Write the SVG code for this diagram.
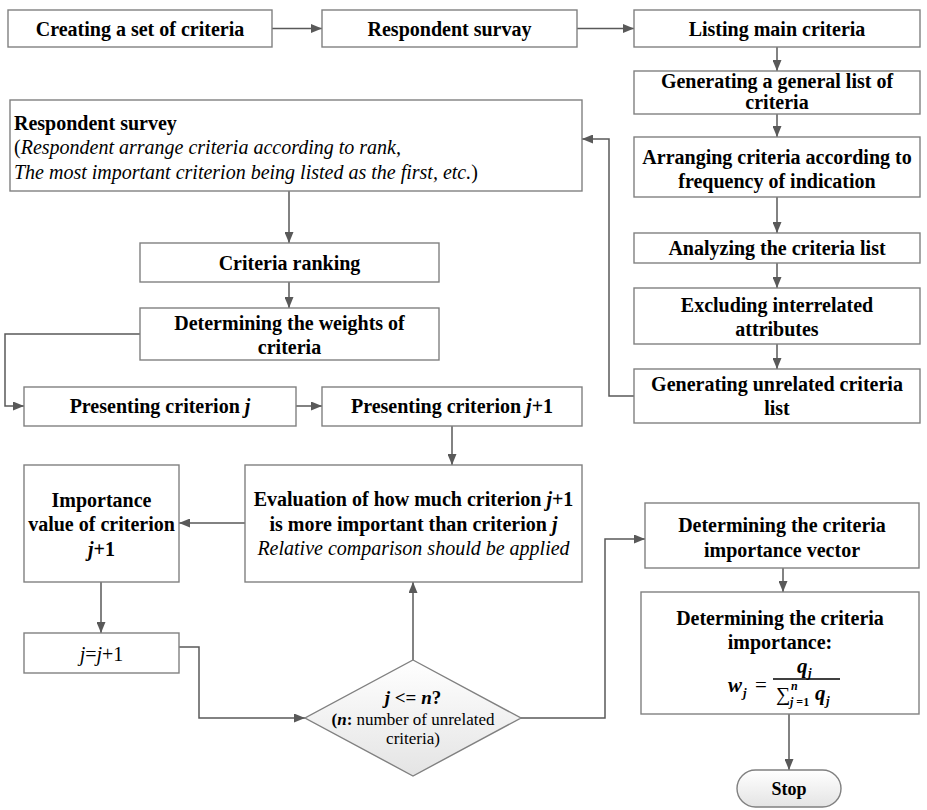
<svg xmlns="http://www.w3.org/2000/svg" width="927" height="810" viewBox="0 0 927 810">
<defs>
<marker id="ah" markerUnits="userSpaceOnUse" markerWidth="11" markerHeight="9" refX="11" refY="4.5" orient="auto">
<path d="M0,0 L11,4.5 L0,9 z" fill="#595959"/>
</marker>
<linearGradient id="gf" x1="0" y1="0" x2="0" y2="1">
<stop offset="0" stop-color="#ffffff"/>
<stop offset="1" stop-color="#e4e4e4"/>
</linearGradient>
<style>
.b{fill:#fff;stroke:#808080;stroke-width:1.4}
.t{font-family:'Liberation Serif','Times New Roman',serif;font-size:20px;font-weight:bold;fill:#000;text-anchor:middle}
.l{text-anchor:start}
.i{font-style:italic}
.r{font-weight:normal}
.s{font-size:17px}
.c{fill:none;stroke:#595959;stroke-width:1.5;marker-end:url(#ah)}
</style>
</defs>
<rect width="927" height="810" fill="#fff"/>
<g id="connectors">
<path class="c" d="M272,28.5 H322"/>
<path class="c" d="M577,28.5 H634"/>
<path class="c" d="M777,47 V71"/>
<path class="c" d="M777,114 V137"/>
<path class="c" d="M777,197 V233"/>
<path class="c" d="M777,263 V288"/>
<path class="c" d="M777,344 V369"/>
<path class="c" d="M634,396 H609 V139 H582"/>
<path class="c" d="M289,191 V243"/>
<path class="c" d="M289,282 V308"/>
<path class="c" d="M140,334 H5 V406 H24"/>
<path class="c" d="M296,406 H322"/>
<path class="c" d="M452,426 V465"/>
<path class="c" d="M245,523 H179"/>
<path class="c" d="M101,582 V633"/>
<path class="c" d="M179,647 H199 V718 H305"/>
<path class="c" d="M413,660 V582"/>
<path class="c" d="M521,718 H605 V539 H645"/>
<path class="c" d="M783,568 V592"/>
<path class="c" d="M789,714 V770"/>
</g>
<g id="n1"><rect class="b" x="8" y="10" width="264" height="37"/><text class="t" x="140" y="35.5">Creating a set of criteria</text></g>
<g id="n2"><rect class="b" x="322" y="10" width="255" height="37"/><text class="t" x="449.5" y="35.5">Respondent survay</text></g>
<g id="n3"><rect class="b" x="634" y="10" width="286" height="37"/><text class="t" x="777" y="35.5">Listing main criteria</text></g>
<g id="n4"><rect class="b" x="634" y="71" width="286" height="43"/><text class="t" x="777" y="88">Generating a general list of</text><text class="t" x="777" y="109">criteria</text></g>
<g id="n5"><rect class="b" x="634" y="137" width="286" height="60"/><text class="t" x="777" y="164">Arranging criteria according to</text><text class="t" x="777" y="188">frequency of indication</text></g>
<g id="n6"><rect class="b" x="634" y="233" width="286" height="30"/><text class="t" x="777" y="255">Analyzing the criteria list</text></g>
<g id="n7"><rect class="b" x="634" y="288" width="286" height="56"/><text class="t" x="777" y="312">Excluding interrelated</text><text class="t" x="777" y="336">attributes</text></g>
<g id="n8"><rect class="b" x="634" y="369" width="286" height="54"/><text class="t" x="777" y="391">Generating unrelated criteria</text><text class="t" x="777" y="415">list</text></g>
<g id="n9"><rect class="b" x="10" y="100" width="572" height="91"/>
<text class="t l" x="14" y="130">Respondent survey</text>
<text class="t l r" x="14" y="154">(<tspan class="i">Respondent arrange criteria according to rank,</tspan></text>
<text class="t l r" x="14" y="179"><tspan class="i">The most important criterion being listed as the first, etc.</tspan>)</text></g>
<g id="n10"><rect class="b" x="140" y="243" width="299" height="39"/><text class="t" x="289.5" y="270">Criteria ranking</text></g>
<g id="n11"><rect class="b" x="140" y="308" width="299" height="52"/><text class="t" x="289.5" y="330">Determining the weights of</text><text class="t" x="289.5" y="354">criteria</text></g>
<g id="n12"><rect class="b" x="24" y="387" width="272" height="39"/><text class="t" x="160" y="413">Presenting criterion <tspan class="i">j</tspan></text></g>
<g id="n13"><rect class="b" x="322" y="387" width="260" height="39"/><text class="t" x="452" y="413">Presenting criterion <tspan class="i">j</tspan>+1</text></g>
<g id="n14"><rect class="b" x="245" y="465" width="337" height="117"/>
<text class="t" x="413.5" y="506">Evaluation of how much criterion <tspan class="i">j</tspan>+1</text>
<text class="t" x="413.5" y="531">is more important than criterion <tspan class="i">j</tspan></text>
<text class="t r i" x="413.5" y="555">Relative comparison should be applied</text></g>
<g id="n15"><rect class="b" x="24" y="465" width="155" height="117"/>
<text class="t" x="101.5" y="507">Importance</text>
<text class="t" x="101.5" y="531">value of criterion</text>
<text class="t" x="101.5" y="556"><tspan class="i">j</tspan>+1</text></g>
<g id="n16"><rect class="b" x="24" y="633" width="155" height="40"/><text class="t r" x="101.5" y="661"><tspan class="i">j</tspan>=<tspan class="i">j</tspan>+1</text></g>
<g id="n17"><path d="M413,660 L521,718 L413,776 L305,718 Z" fill="url(#gf)" stroke="#808080" stroke-width="1.4"/>
<text class="t" x="413" y="704" style="font-size:19px"><tspan class="i">j</tspan> &lt;= <tspan class="i">n</tspan>?</text>
<text class="t s" x="413" y="725">(<tspan class="i">n</tspan>:<tspan class="r"> number of unrelated</tspan></text>
<text class="t s r" x="413" y="744">criteria)</text></g>
<g id="n18"><rect class="b" x="645" y="503" width="274" height="65"/><text class="t" x="782" y="532">Determining the criteria</text><text class="t" x="782" y="557">importance vector</text></g>
<g id="n19"><rect class="b" x="641" y="592" width="278" height="122"/>
<text class="t" x="780" y="625">Determining the criteria</text>
<text class="t" x="780" y="649">importance:</text>
<text class="t i l" x="728" y="692" style="font-size:21px">w</text>
<text class="t i l" x="743" y="697" style="font-size:13px">j</text>
<text class="t r l" x="755" y="692" style="font-size:21px">=</text>
<text class="t i l" x="797" y="673" style="font-size:21px">q</text>
<text class="t i l" x="808" y="677" style="font-size:13px">j</text>
<line x1="773" y1="679" x2="840" y2="679" stroke="#000" stroke-width="1.3"/>
<text class="t r l" x="776" y="701" style="font-size:20px">∑</text>
<text class="t i l" x="791" y="690" style="font-size:12px">n</text>
<text class="t l" x="790" y="706" style="font-size:12px"><tspan class="i">j</tspan> =1</text>
<text class="t i l" x="815" y="700" style="font-size:21px">q</text>
<text class="t i l" x="826" y="705" style="font-size:13px">j</text></g>
<g id="n20"><rect x="737" y="770" width="104" height="37" rx="18.5" fill="url(#gf)" stroke="#808080" stroke-width="1.4"/><text class="t" x="789" y="795" style="font-size:18px">Stop</text></g>
</svg>
